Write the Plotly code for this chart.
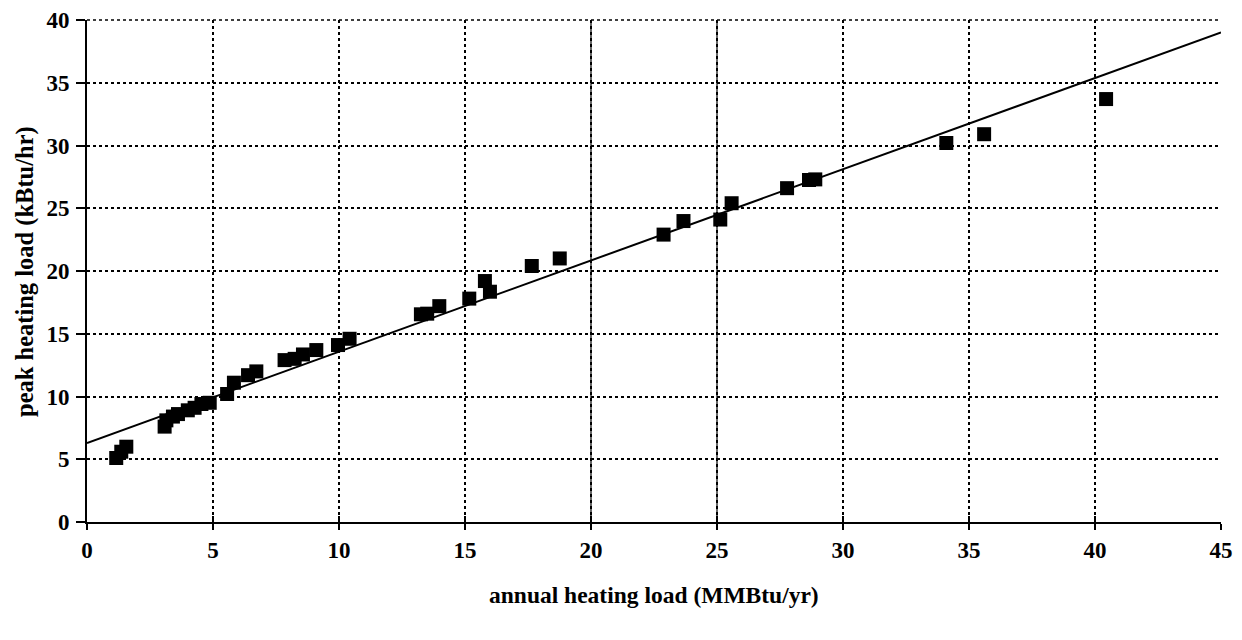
import plotly.graph_objects as go

# Data
annual_load = [1.16, 1.36, 1.56, 3.08, 3.15, 3.41, 3.61, 4.0, 4.27, 4.54, 4.87,
               5.56, 5.83, 6.39, 6.72, 7.84, 8.24, 8.57, 9.1, 9.96, 10.42,
               13.25, 13.5, 13.98, 15.17, 15.79, 15.99, 17.65, 18.76,
               22.88, 23.67, 25.13, 25.58, 27.78, 28.65, 28.9, 34.1, 35.6, 40.44]
peak_load = [5.1, 5.6, 6.0, 7.6, 8.1, 8.4, 8.6, 8.9, 9.1, 9.4, 9.5,
             10.2, 11.1, 11.7, 12.0, 12.9, 13.0, 13.35, 13.7, 14.1, 14.6,
             16.55, 16.6, 17.2, 17.8, 19.2, 18.35, 20.4, 21.0,
             22.9, 23.98, 24.1, 25.4, 26.6, 27.25, 27.3, 30.2, 30.9, 33.7]

# Linear trend line parameters
trend_intercept = 6.3
trend_slope = 0.727
trend_x = [0, 45]
trend_y = [trend_intercept + trend_slope * v for v in trend_x]

x_ticks = [0, 5, 10, 15, 20, 25, 30, 35, 40, 45]
y_ticks = [0, 5, 10, 15, 20, 25, 30, 35, 40]
solid_grid_x = [20, 25]   # gridlines that print solid in the reference

x_title = "annual heating load (MMBtu/yr)"
y_title = "peak heating load (kBtu/hr)"

FONT = "Liberation Serif"
TICK_SIZE = 23
X_TITLE_SIZE = 23.5
Y_TITLE_SIZE = 24.5

fig = go.Figure()
fig.add_trace(go.Scatter(
    x=trend_x, y=trend_y, mode="lines",
    line=dict(color="black", width=2), showlegend=False, hoverinfo="skip"))
fig.add_trace(go.Scatter(
    x=annual_load, y=peak_load, mode="markers",
    marker=dict(symbol="square", size=14, color="black", line=dict(width=0)),
    showlegend=False))
# helper trace for the inner half of the crossing x ticks
fig.add_trace(go.Scatter(x=[], y=[], xaxis="x2", yaxis="y", showlegend=False))

for gx in solid_grid_x:
    fig.add_shape(type="line", xref="x", yref="paper", x0=gx, x1=gx, y0=0, y1=1,
                  line=dict(color="black", width=1.2), layer="below")
# dotted top border (the gridline at the top of the range)
fig.add_shape(type="line", xref="paper", yref="paper", x0=0, x1=1, y0=1, y1=1,
              line=dict(color="black", width=1.5, dash="dot"))

# the page body has an 8px default margin; size the figure to fill the window
fig.update_layout(
    width=1226, height=624,
    margin=dict(l=79, r=13, t=12, b=110),
    plot_bgcolor="white", paper_bgcolor="white",
    font=dict(family=FONT, size=TICK_SIZE, color="black", weight="bold"),
    xaxis=dict(
        range=[0, 45], tickvals=x_ticks, ticktext=[str(v) for v in x_ticks],
        showgrid=True, gridcolor="black", griddash="dot", gridwidth=1.5,
        zeroline=False, showline=True, linecolor="black", linewidth=2,
        ticks="outside", ticklen=6, tickwidth=2, tickcolor="black",
        ticklabelstandoff=0, automargin=False, ticklabeloverflow="allow",
        tickfont=dict(family=FONT, size=TICK_SIZE, weight="bold"),
    ),
    xaxis2=dict(
        overlaying="x", matches="x", anchor="y", range=[0, 45],
        tickvals=x_ticks, showticklabels=False, showgrid=False, zeroline=False,
        showline=False, ticks="inside", ticklen=6, tickwidth=2, tickcolor="black",
        side="bottom",
    ),
    yaxis=dict(
        range=[0, 40], tickvals=y_ticks, ticktext=[str(v) for v in y_ticks],
        showgrid=True, gridcolor="black", griddash="dot", gridwidth=1.5,
        zeroline=False, showline=True, linecolor="black", linewidth=2,
        ticks="outside", ticklen=9, tickwidth=2, tickcolor="black",
        ticklabelstandoff=2, automargin=False, ticklabeloverflow="allow",
        tickfont=dict(family=FONT, size=TICK_SIZE, weight="bold"),
    ),
    annotations=[
        dict(text=x_title, xref="paper", yref="paper", x=0.5, y=-0.145,
             xanchor="center", yanchor="middle", showarrow=False,
             font=dict(family=FONT, size=X_TITLE_SIZE, weight="bold", color="black")),
        dict(text=y_title, xref="paper", yref="paper", x=-0.0547, y=0.5,
             xanchor="center", yanchor="middle", showarrow=False, textangle=-90,
             font=dict(family=FONT, size=Y_TITLE_SIZE, weight="bold", color="black")),
    ],
)

fig.write_html("out.html")
